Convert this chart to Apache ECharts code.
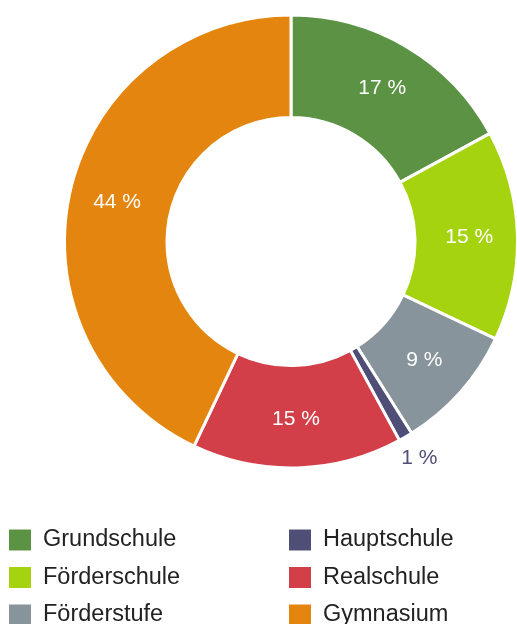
<!DOCTYPE html>
<html>
<head>
<meta charset="utf-8">
<script src="https://cdn.jsdelivr.net/npm/echarts@6/dist/echarts.min.js"></script>
<style>
  html, body { margin: 0; padding: 0; background: #fff; }
  #main { width: 517px; height: 624px; }
</style>
</head>
<body>
<div id="main"></div>
<script>
// Schulformen (Anteil in %)
var schools = ['Grundschule', 'Förderschule', 'Förderstufe', 'Hauptschule', 'Realschule', 'Gymnasium']
var shares = [17.1, 15.0, 9.0, 1.0, 15.0, 43.0]        // slice sizes
var shareLabels = ['17 %', '15 %', '9 %', '1 %', '15 %', '44 %'] // printed labels
var colors = ['#5b9244', '#a6d30f', '#87949b', '#4f4e77', '#d33f49', '#e3850e']

var font = '"Liberation Sans", Arial, Helvetica, sans-serif'
var myChart = echarts.init(document.getElementById('main'))

var pieData = []
for (var i = 0; i < schools.length; i++) {
    var item = { name: schools[i], value: shares[i], itemStyle: { color: colors[i] } }
    if (shares[i] < 3) {
        // kleines Segment: Beschriftung außen
        item.label = { position: 'outside', color: colors[i], distanceToLabelLine: -17 }
        item.labelLine = { show: false, length: 25, length2: 0 }
    }
    pieData.push(item)
}

function legendFor(names, left) {
    return {
        orient: 'vertical',
        left: left,
        top: 527.5,
        height: 200,
        padding: 0,
        itemWidth: 24,
        itemHeight: 23,
        itemGap: 12.5,
        icon: 'rect',
        data: names,
        textStyle: { fontFamily: font, fontSize: 23.5, color: '#222', padding: [0, 0, 0, 6] }
    }
}

var option = {
    animation: false,
    color: colors,
    legend: [
        legendFor(schools.slice(0, 3), 7),
        legendFor(schools.slice(3), 287)
    ],
    series: [{
        type: 'pie',
        center: [291, 241.5],
        radius: [124, 226.5],
        startAngle: 90,
        avoidLabelOverlap: false,
        itemStyle: { borderColor: '#fff', borderWidth: 3 },
        label: {
            show: true,
            position: 'inside',
            color: '#fff',
            fontFamily: font,
            fontSize: 21,
            formatter: function (p) { return shareLabels[p.dataIndex] }
        },
        emphasis: { disabled: true },
        data: pieData
    }]
}

myChart.setOption(option)
</script>
</body>
</html>
